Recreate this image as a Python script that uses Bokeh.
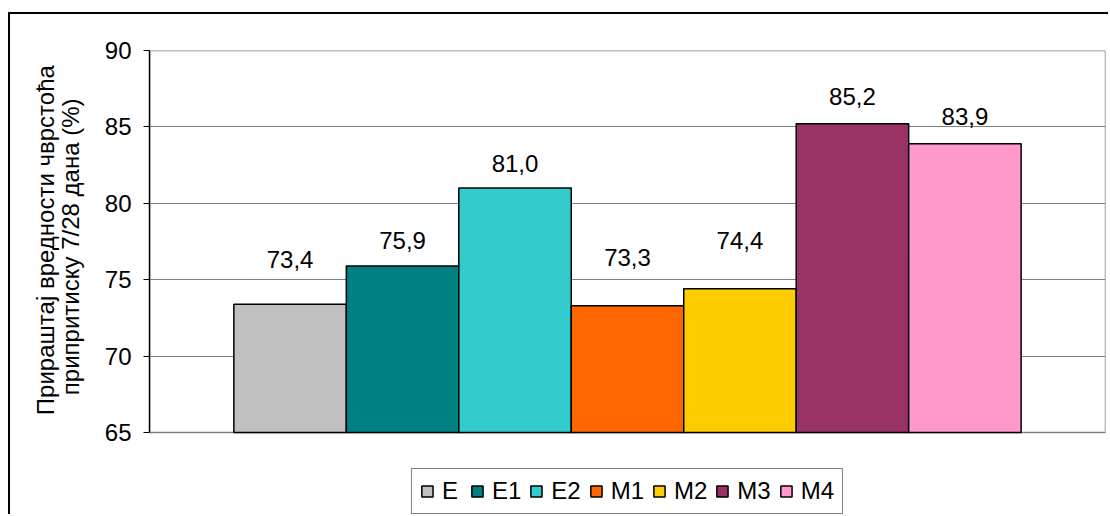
from bokeh.plotting import figure
from bokeh.models import Range1d, FixedTicker, ColumnDataSource
from bokeh.core.properties import value
from bokeh.embed import file_html
from bokeh.resources import INLINE

categories = ["E", "E1", "E2", "M1", "M2", "M3", "M4"]
values = [73.4, 75.9, 81.0, 73.3, 74.4, 85.2, 83.9]
colors = ["#C0C0C0", "#008080", "#33CCCC", "#FF6600", "#FFCC00", "#993366", "#FF99CC"]
y_ticks = [65, 70, 75, 80, 85, 90]
y_title_lines = ["Прираштај вредности чврстоћа", "припритиску 7/28 дана (%)"]

# style: pixel distance from bar top to the middle of its value label (as in the original)
label_gaps = [45, 25, 25, 48, 48, 27, 27]
# style: leading no-break spaces that lift each title line to the value area's centre
title_pads = [13, 11]

FONT = "Liberation Sans"
FS = "24px"

W, H = 1100, 502
TOP, LEFT, RIGHT = 36, 139, 5
PLOT_H = 382                 # pixel height of the 65..90 value area
BELOW = H - TOP - PLOT_H     # legend strip under the value area (inside frame)

y_min, y_max = y_ticks[0], y_ticks[-1]
y_start = y_min - BELOW / PLOT_H * (y_max - y_min)
x_start, x_end = -1.25, len(categories) - 1 + 1.25

xs = list(range(len(categories)))
src = ColumnDataSource(dict(
    x=xs,
    cat=categories,
    top=values,
    color=colors,
    lbl=[f"{v:.1f}".replace(".", ",") for v in values],
    yoff=[-g for g in label_gaps],
))

p = figure(width=W, height=H,
           x_range=Range1d(x_start, x_end),
           y_range=Range1d(y_start, y_max),
           output_backend="svg", toolbar_location=None,
           min_border_left=LEFT, min_border_right=RIGHT,
           min_border_top=TOP, min_border_bottom=0)
# outer chart-area border (top and left visible; right/bottom run off the page)
p.styles = {"margin-left": "8px", "margin-top": "12px",
            "border-left": "2px solid black", "border-top": "2px solid black"}
p.outline_line_color = None
p.xaxis.visible = False
p.xgrid.visible = False
p.ygrid.grid_line_color = "#808080"
p.ygrid.grid_line_width = 1

# plot-area border (gray)
p.quad(left=[x_start], right=[x_end], bottom=[y_min], top=[y_max],
       fill_alpha=0, line_color="#808080", line_width=1.5)

p.vbar(x="x", top="top", bottom=y_min, width=1.0, source=src,
       fill_color="color", line_color="black", line_width=1.5,
       legend_field="cat")

p.text(x="x", y="top", text="lbl", source=src, y_offset="yoff",
       text_align="center", text_baseline="middle",
       text_font=value(FONT), text_font_size=FS, text_color="black")

ya = p.yaxis[0]
ya.bounds = (y_min, y_max)
ya.ticker = FixedTicker(ticks=y_ticks)
ya.minor_tick_line_color = None
ya.axis_line_color = "black"
ya.axis_line_width = 1.5
ya.major_tick_out = 6
ya.major_tick_in = 0
ya.major_tick_line_color = "black"
ya.major_label_standoff = 12
ya.major_label_text_font = FONT
ya.major_label_text_font_size = FS
ya.major_label_text_color = "black"
ya.axis_label = "\n".join("\u00a0" * n + t for n, t in zip(title_pads, y_title_lines))
ya.axis_label_text_font = FONT
ya.axis_label_text_font_size = FS
ya.axis_label_text_font_style = "normal"
ya.axis_label_text_color = "black"
ya.axis_label_text_line_height = 0.9
ya.axis_label_standoff = 18

lg = p.legend[0]
lg.orientation = "horizontal"
lg.location = "bottom_center"
lg.margin = 2
lg.border_line_color = "black"
lg.border_line_width = 1
lg.background_fill_color = "white"
lg.background_fill_alpha = 1
lg.label_text_font = FONT
lg.label_text_font_size = FS
lg.label_text_color = "black"
lg.glyph_width = 14
lg.glyph_height = 14
lg.label_standoff = 8
lg.spacing = 8
lg.padding = 8

open("out.html", "w").write(file_html(p, INLINE))
